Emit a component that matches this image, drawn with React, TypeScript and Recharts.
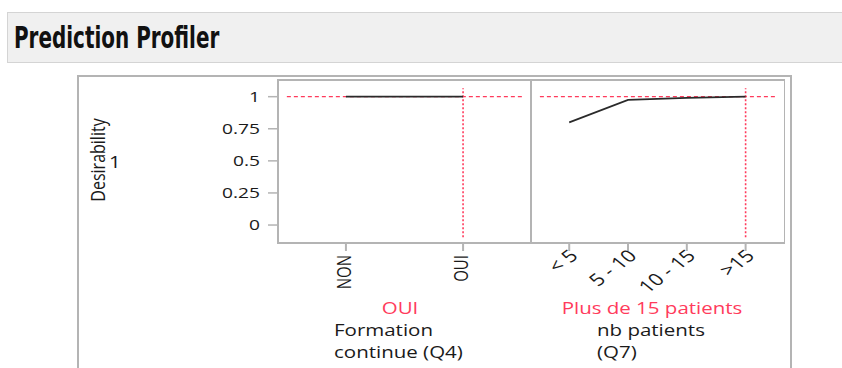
import { LineChart, Line, XAxis, YAxis, ReferenceLine, ReferenceArea } from 'recharts';

// Desirability profile per factor level
const q4Levels = ['NON', 'OUI'];
const q4Desirability = [1, 1];
const q4Current = 'OUI';

const q7Levels = ['< 5', '5 - 10', '10 - 15', '>15'];
const q7Desirability = [0.8, 0.975, 0.99, 1];
const q7Current = 'Plus de 15 patients';

const desirabilityTicks = [0, 0.25, 0.5, 0.75, 1];
const currentDesirability = 1;

const Y_DOMAIN: [number, number] = [-0.14, 1.13];
const RED = '#ff3b5c';
const FRAME = '#b4b4b4';
const INK = '#1a1a1a';
const FONT = '"Open Sans", "Noto Sans", sans-serif';
// the profiler's text is drawn a little wide
const WIDE = 1.28;

type TickProps = { x: number; y: number; payload: { value: number } };

function makeTick(levels: string[], angle: number, dx: number, dy: number, size: number) {
  return ({ x, y, payload }: TickProps) => (
    <text
      transform={`translate(${x + dx}, ${y + dy}) scale(${WIDE}, 1) rotate(${angle})`}
      textAnchor="end"
      fill={INK}
      fontSize={size}
      fontFamily={FONT}
    >
      {levels[payload.value]}
    </text>
  );
}

const yTick = ({ x, y, payload }: TickProps) => (
  <text
    transform={`translate(${x}, ${y + 5}) scale(${WIDE}, 1)`}
    textAnchor="end"
    fill={INK}
    fontSize={15}
    fontFamily={FONT}
  >
    {payload.value}
  </text>
);

type ProfileProps = {
  levels: string[];
  values: number[];
  currentIndex: number;
  left: number;
  width: number;
  yAxisWidth: number;
  angle: number;
  tickDx: number;
  tickDy: number;
  tickSize: number;
};

function Profile({ levels, values, currentIndex, left, width, yAxisWidth, angle, tickDx, tickDy, tickSize }: ProfileProps) {
  const data = values.map((d, i) => ({ x: i, d }));
  const wide = levels.length > 2;
  const xDomain: [number, number] = [wide ? -0.65 : -0.58, levels.length - 1 + (wide ? 0.67 : 0.58)];
  const pad = (xDomain[1] - xDomain[0]) * 0.035;
  return (
    <div style={{ position: 'absolute', left, top: 70 }}>
      <LineChart width={width} height={230} data={data} margin={{ top: 10, right: 0, bottom: 0, left: 0 }}>
        <XAxis
          dataKey="x"
          type="number"
          domain={xDomain}
          allowDataOverflow
          ticks={levels.map((_, i) => i)}
          interval={0}
          height={57}
          axisLine={false}
          tickSize={8}
          tickLine={{ stroke: FRAME, strokeWidth: 2 }}
          tick={makeTick(levels, angle, tickDx, tickDy, tickSize)}
        />
        <YAxis
          type="number"
          domain={Y_DOMAIN}
          allowDataOverflow
          ticks={desirabilityTicks}
          width={yAxisWidth}
          hide={yAxisWidth === 0}
          axisLine={false}
          tickSize={10}
          tickMargin={8}
          tickLine={{ stroke: FRAME, strokeWidth: 1.5 }}
          tick={yTick}
        />
        <ReferenceArea
          x1={xDomain[0]}
          x2={xDomain[1]}
          y1={Y_DOMAIN[0]}
          y2={Y_DOMAIN[1]}
          fill="#fff"
          fillOpacity={1}
          stroke={FRAME}
          strokeWidth={2}
          ifOverflow="visible"
        />
        <ReferenceLine
          segment={[
            { x: xDomain[0] + pad, y: currentDesirability },
            { x: xDomain[1] - pad, y: currentDesirability },
          ]}
          stroke={RED}
          strokeWidth={1.3}
          strokeDasharray="4 3"
        />
        <ReferenceLine
          segment={[
            { x: currentIndex, y: Y_DOMAIN[0] + 0.045 },
            { x: currentIndex, y: Y_DOMAIN[1] - 0.065 },
          ]}
          stroke={RED}
          strokeWidth={1.6}
          strokeDasharray="2 2"
        />
        <Line
          type="linear"
          dataKey="d"
          stroke="#2a2a2a"
          strokeWidth={1.7}
          dot={false}
          isAnimationActive={false}
        />
      </LineChart>
    </div>
  );
}

const textStyle = {
  position: 'absolute' as const,
  fontFamily: FONT,
  fontSize: 16,
  color: INK,
  lineHeight: '22px',
  whiteSpace: 'nowrap' as const,
};

export default function App() {
  return (
    <div style={{ position: 'absolute', left: 0, top: 0, width: 842, height: 368, background: '#fff', overflow: 'hidden' }}>
      <div
        style={{
          position: 'absolute',
          left: 7,
          top: 12,
          width: 850,
          height: 49,
          background: '#f0f0f0',
          border: '1px solid #d4d4d4',
        }}
      />
      <div
        style={{
          position: 'absolute',
          left: 14,
          top: 20,
          fontFamily: '"DejaVu Sans", sans-serif',
          fontWeight: 'bold',
          fontSize: 30,
          lineHeight: '36px',
          color: '#111',
          whiteSpace: 'nowrap',
          transform: 'scaleX(0.665)',
          transformOrigin: 'left center',
        }}
      >
        Prediction Profiler
      </div>

      <div style={{ position: 'absolute', left: 77, top: 75, width: 711, height: 310, border: `2px solid ${FRAME}` }} />

      <Profile
        levels={q4Levels}
        values={q4Desirability}
        currentIndex={q4Levels.indexOf(q4Current)}
        left={180}
        width={351}
        yAxisWidth={98}
        angle={-90}
        tickDx={5}
        tickDy={2}
        tickSize={15}
      />
      <Profile
        levels={q7Levels}
        values={q7Desirability}
        currentIndex={q7Levels.length - 1}
        left={531}
        width={254}
        yAxisWidth={0}
        angle={-44}
        tickDx={10}
        tickDy={4}
        tickSize={17}
      />

      <div
        style={{
          ...textStyle,
          left: 97,
          top: 160,
          transform: `translate(-50%, -50%) scaleX(${WIDE}) rotate(-90deg)`,
        }}
      >
        Desirability
      </div>
      <div style={{ ...textStyle, left: 109, top: 151, transform: `scaleX(${WIDE})`, transformOrigin: 'left center' }}>
        {currentDesirability}
      </div>

      <div style={{ ...textStyle, color: RED, left: 400, top: 297, transform: `translateX(-50%) scaleX(${WIDE})` }}>
        {q4Current}
      </div>
      <div style={{ ...textStyle, left: 334, top: 319, transform: `scaleX(${WIDE})`, transformOrigin: 'left top' }}>
        Formation
        <br />
        continue (Q4)
      </div>

      <div style={{ ...textStyle, color: RED, left: 652, top: 297, transform: `translateX(-50%) scaleX(${WIDE})` }}>
        {q7Current}
      </div>
      <div style={{ ...textStyle, left: 597, top: 319, transform: `scaleX(${WIDE})`, transformOrigin: 'left top' }}>
        nb patients
        <br />
        (Q7)
      </div>
    </div>
  );
}
